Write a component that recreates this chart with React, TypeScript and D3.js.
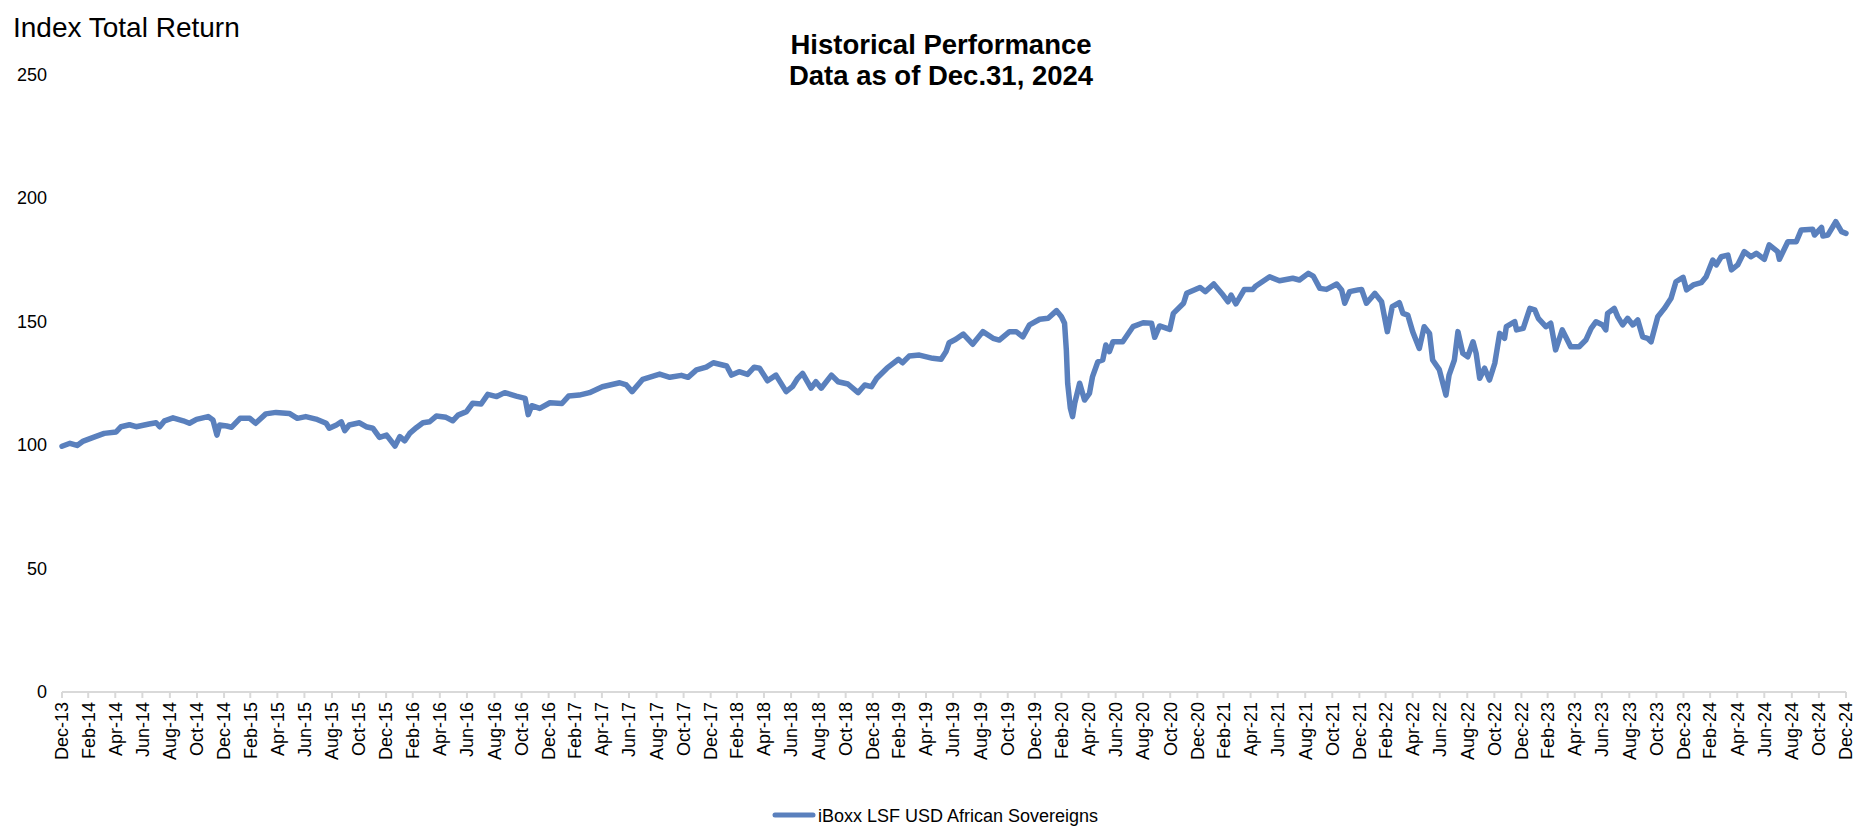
import React from "react";
import * as d3 from "d3";

// index level, date / value pairs kept as two lists
const dates2014_2016 = [
  "2013-12-31", "2014-01-18", "2014-02-03", "2014-02-17", "2014-03-10", "2014-04-05", "2014-05-02", "2014-05-13",
  "2014-06-01", "2014-06-16", "2014-07-15", "2014-07-31", "2014-08-08", "2014-08-19", "2014-09-07", "2014-09-30",
  "2014-10-14", "2014-10-30", "2014-11-25", "2014-12-06", "2014-12-15", "2014-12-21", "2015-01-06", "2015-01-17",
  "2015-02-05", "2015-02-27", "2015-03-12", "2015-04-04", "2015-04-27", "2015-05-27", "2015-06-14", "2015-07-03",
  "2015-07-26", "2015-08-18", "2015-08-25", "2015-09-10", "2015-09-21", "2015-09-29", "2015-10-09", "2015-11-01",
  "2015-11-16", "2015-12-01", "2015-12-16", "2016-01-01", "2016-01-20", "2016-01-31", "2016-02-11", "2016-02-22",
  "2016-03-08", "2016-03-23", "2016-04-07", "2016-04-22", "2016-05-14", "2016-05-29", "2016-06-10", "2016-06-29",
  "2016-07-13", "2016-08-01", "2016-08-16", "2016-09-05", "2016-09-23", "2016-10-19", "2016-11-08", "2016-11-15",
  "2016-11-23", "2016-12-11",
];
const values2014_2016 = [
  99.5, 100.7, 99.8, 101.6, 103, 104.7, 105.3, 107.4,
  108.2, 107.4, 108.5, 109, 107.4, 109.8, 111, 109.8,
  108.8, 110.4, 111.5, 110.1, 104, 108.1, 107.7, 107.2,
  110.8, 110.8, 108.8, 112.6, 113.2, 112.8, 110.8, 111.5,
  110.5, 108.8, 106.8, 108.1, 109.4, 105.8, 108.1, 109,
  107.4, 106.8, 103.1, 104, 99.6, 103.4, 101.7, 104.7,
  107, 109, 109.4, 111.7, 111.2, 109.8, 112.1, 113.5,
  116.9, 116.6, 120.5, 119.6, 121.2, 119.8, 118.9, 112.3,
  115.9, 114.8,
];

const dates2017_2019 = [
  "2017-01-03", "2017-01-30", "2017-02-14", "2017-03-10", "2017-04-02", "2017-05-01", "2017-06-09", "2017-06-24",
  "2017-07-07", "2017-07-31", "2017-09-07", "2017-09-30", "2017-10-26", "2017-11-10", "2017-11-29", "2017-12-21",
  "2018-01-06", "2018-02-05", "2018-02-16", "2018-03-05", "2018-03-24", "2018-04-08", "2018-04-20", "2018-05-08",
  "2018-05-27", "2018-06-19", "2018-07-03", "2018-07-15", "2018-07-26", "2018-08-14", "2018-08-25", "2018-09-06",
  "2018-09-29", "2018-10-14", "2018-11-05", "2018-11-28", "2018-12-13", "2018-12-28", "2019-01-09", "2019-02-01",
  "2019-02-27", "2019-03-08", "2019-03-23", "2019-04-15", "2019-05-15", "2019-06-03", "2019-06-14", "2019-06-21",
  "2019-07-06", "2019-07-23", "2019-08-13", "2019-09-05", "2019-09-28", "2019-10-12", "2019-11-04", "2019-11-19",
  "2019-12-04", "2019-12-19",
];
const values2017_2019 = [
  117.1, 116.8, 119.8, 120.2, 121.2, 123.6, 125.2, 124.3,
  121.6, 126.6, 128.7, 127.4, 128.2, 127.4, 130.4, 131.5,
  133.3, 132, 128.3, 129.7, 128.6, 131.5, 131.1, 126,
  128.3, 121.6, 123.6, 127, 129, 123, 125.6, 123,
  128.3, 125.6, 124.7, 121.2, 124.3, 123.6, 127, 131.1,
  134.7, 133.3, 136, 136.4, 135.1, 134.7, 137.8, 141.4,
  142.8, 144.9, 140.8, 145.9, 143.2, 142.5, 145.9, 145.9,
  143.8, 148.6,
];

const dates2020_2021 = [
  "2020-01-11", "2020-01-30", "2020-02-18", "2020-02-29", "2020-03-07", "2020-03-11", "2020-03-14", "2020-03-20",
  "2020-03-25", "2020-03-30", "2020-04-10", "2020-04-21", "2020-05-02", "2020-05-09", "2020-05-21", "2020-06-01",
  "2020-06-08", "2020-06-16", "2020-06-24", "2020-07-16", "2020-08-08", "2020-08-31", "2020-09-19", "2020-09-26",
  "2020-10-07", "2020-10-30", "2020-11-07", "2020-11-30", "2020-12-07", "2021-01-06", "2021-01-18", "2021-02-06",
  "2021-02-27", "2021-03-10", "2021-03-17", "2021-03-28", "2021-04-16", "2021-05-05", "2021-05-12", "2021-06-12",
  "2021-07-04", "2021-08-03", "2021-08-18", "2021-09-07", "2021-09-18", "2021-10-03", "2021-10-18", "2021-11-10",
  "2021-11-21", "2021-11-28", "2021-12-09", "2021-12-28",
];
const values2020_2021 = [
  150.9, 151.3, 154.4, 151.9, 149.3, 138.5, 125, 115,
  111.5, 117, 125, 118.2, 120.9, 127.7, 133.7, 134.4,
  140.5, 137.8, 141.8, 141.8, 147.9, 149.5, 149.3, 143.6,
  148.2, 146.8, 153.3, 157.4, 161.4, 163.8, 162.1, 165.2,
  160.7, 158, 160.7, 157.1, 163, 163, 164.4, 168.1,
  166.5, 167.5, 166.8, 169.5, 168.4, 163.4, 163, 165.2,
  162.8, 157.4, 162.1, 162.8,
];

const dates2022_2024 = [
  "2022-01-05", "2022-01-16", "2022-02-04", "2022-02-19", "2022-03-04", "2022-03-15", "2022-03-31", "2022-04-08",
  "2022-04-19", "2022-04-30", "2022-05-15", "2022-05-26", "2022-06-07", "2022-06-14", "2022-06-29", "2022-07-14",
  "2022-07-21", "2022-08-02", "2022-08-10", "2022-08-21", "2022-09-01", "2022-09-13", "2022-09-20", "2022-09-28",
  "2022-10-09", "2022-10-20", "2022-11-01", "2022-11-12", "2022-11-23", "2022-11-27", "2022-12-16", "2022-12-20",
  "2023-01-04", "2023-01-19", "2023-01-30", "2023-02-07", "2023-02-24", "2023-03-07", "2023-03-18", "2023-04-02",
  "2023-04-21", "2023-05-10", "2023-05-25", "2023-06-06", "2023-06-17", "2023-07-02", "2023-07-09", "2023-07-13",
  "2023-07-28", "2023-08-05", "2023-08-16", "2023-08-27", "2023-09-08", "2023-09-19", "2023-09-30", "2023-10-11",
  "2023-10-19", "2023-11-03", "2023-11-18", "2023-12-03", "2023-12-14", "2023-12-30", "2024-01-07", "2024-01-22",
  "2024-02-09", "2024-02-20", "2024-03-06", "2024-03-14", "2024-03-25", "2024-04-09", "2024-04-17", "2024-05-01",
  "2024-05-16", "2024-05-31", "2024-06-12", "2024-06-30", "2024-07-11", "2024-07-30", "2024-08-03", "2024-08-22",
  "2024-09-10", "2024-09-21", "2024-10-17", "2024-10-21", "2024-11-06", "2024-11-09", "2024-11-20", "2024-12-08",
  "2024-12-21", "2024-12-31",
];
const values2022_2024 = [
  163, 157.4, 161.4, 158, 145.9, 156, 157.6, 153.3,
  152.6, 145.9, 139.1, 147.9, 145.2, 134.4, 130.5, 120.2,
  128.3, 134.4, 145.9, 137.1, 135.7, 141.8, 137.1, 127,
  131.1, 126.3, 133.1, 145.2, 143.2, 147.9, 149.9, 146.6,
  147.2, 155.3, 154.7, 151.3, 147.9, 149.3, 138.5, 146.6,
  139.8, 139.8, 142.5, 147.2, 149.9, 148.6, 146.6, 153.3,
  155.3, 151.9, 148.6, 151.3, 148.6, 150.6, 143.8, 143.2,
  141.8, 151.9, 155.3, 159.4, 166.1, 167.9, 162.8, 164.8,
  165.7, 168.1, 174.9, 172.9, 176.2, 176.9, 170.9, 172.9,
  178.3, 176.2, 177.6, 175.2, 181, 178.3, 175.2, 182.3,
  182.3, 187, 187.3, 185, 188.1, 184.6, 185, 190.4,
  186.4, 185.7,
];

const yTicks = [0, 50, 100, 150, 200, 250];
const seriesName = "iBoxx LSF USD African Sovereigns";
const titleLines = ["Historical Performance", "Data as of Dec.31, 2024"];
const yAxisTitle = "Index Total Return";

const parse = d3.timeParse("%Y-%m-%d");
const allDates = [...dates2014_2016, ...dates2017_2019, ...dates2020_2021, ...dates2022_2024];
const allValues = [...values2014_2016, ...values2017_2019, ...values2020_2021, ...values2022_2024];
const series = allDates.map((d, i) => ({ date: parse(d) as Date, value: allValues[i] }));

const W = 1866;
const H = 836;
const FONT = "'Liberation Sans', Arial, Helvetica, sans-serif";
const LINE = "#5a80bd";

export default function App() {
  const x = d3
    .scaleTime()
    .domain([parse("2013-12-31") as Date, parse("2024-12-31") as Date])
    .range([62, 1846]);
  const y = d3.scaleLinear().domain([0, 250]).range([692, 74.5]);

  // month-end ticks every two months: Dec-13, Feb-14, ... Dec-24
  const xTicks = d3
    .timeMonth.every(2)!
    .range(parse("2014-01-01") as Date, parse("2025-01-02") as Date)
    .map((d) => d3.timeDay.offset(d, -1));
  const fmt = d3.timeFormat("%b-%y");

  const line = d3
    .line<{ date: Date; value: number }>()
    .x((d) => x(d.date))
    .y((d) => y(d.value));

  return (
    <svg
      width={W}
      height={H}
      style={{ position: "absolute", left: 0, top: 0, display: "block", background: "#fff" }}
      fontFamily={FONT}
    >
      <text x={13} y={37} fontSize={28} fill="#000">
        {yAxisTitle}
      </text>
      {titleLines.map((t, i) => (
        <text key={t} x={941} y={54 + i * 31} fontSize={27.5} fontWeight="bold" textAnchor="middle" fill="#000">
          {t}
        </text>
      ))}

      {yTicks.map((t) => (
        <text key={t} x={47} y={y(t)} dy="0.35em" fontSize={18} textAnchor="end" fill="#000">
          {t}
        </text>
      ))}

      <line x1={62} x2={1846} y1={y(0)} y2={y(0)} stroke="#d9d9d9" strokeWidth={2} />
      {xTicks.map((d) => (
        <g key={d.getTime()} transform={`translate(${x(d)},${y(0)})`}>
          <line y1={0} y2={6} stroke="#d9d9d9" strokeWidth={2} />
          <text transform="translate(0,10) rotate(-90)" dy="0.35em" fontSize={18} textAnchor="end" fill="#000">
            {fmt(d)}
          </text>
        </g>
      ))}

      <path
        d={line(series) ?? ""}
        fill="none"
        stroke={LINE}
        strokeWidth={5.5}
        strokeLinejoin="round"
        strokeLinecap="round"
      />

      <line x1={775} x2={813} y1={815} y2={815} stroke={LINE} strokeWidth={5} strokeLinecap="round" />
      <text x={818} y={822} fontSize={18} fill="#000">
        {seriesName}
      </text>
    </svg>
  );
}
